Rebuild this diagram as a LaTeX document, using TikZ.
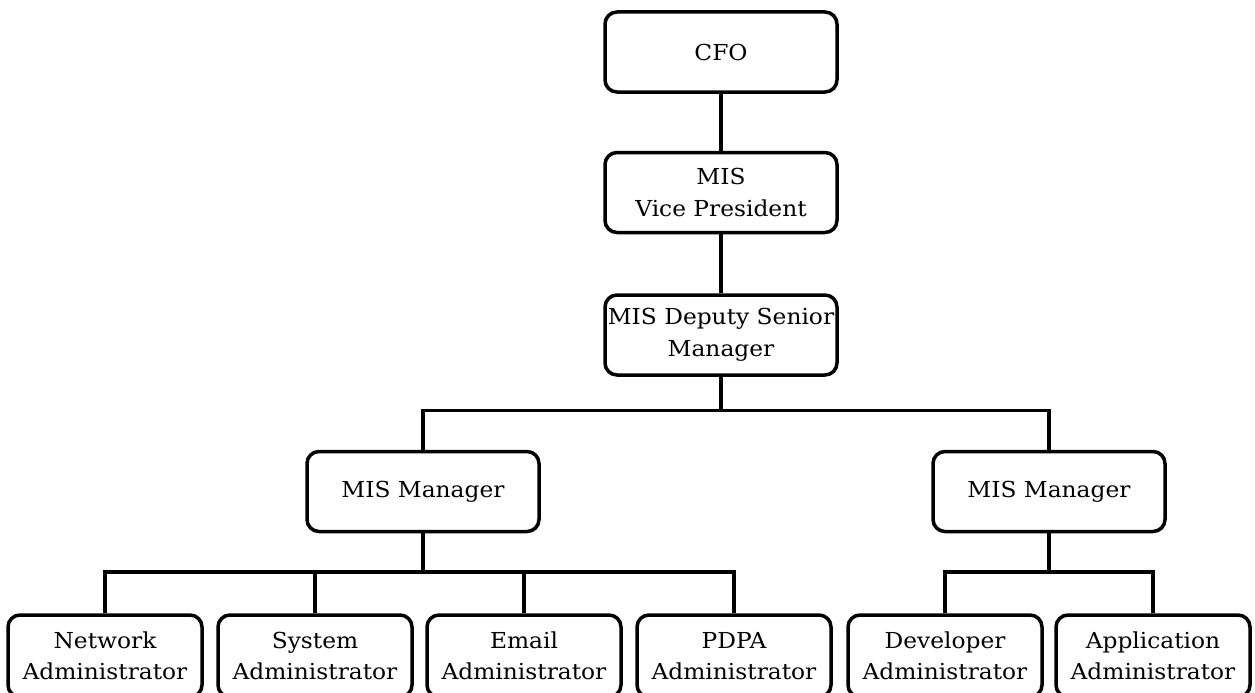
\documentclass[tikz,border=0pt]{standalone}
\usepackage{fontspec}
\setmainfont{DejaVu Serif}[FakeStretch=1.06]
\begin{document}
\begin{tikzpicture}[x=1pt,y=-1pt,
  box/.style={draw=black, line width=3.5pt, rounded corners=12pt, align=center,
    inner sep=0pt, font=\fontsize{22}{31.5}\selectfont, text=black},
  big/.style={box, minimum width=232pt, minimum height=80pt},
  small/.style={box, minimum width=194pt, minimum height=82pt},
  conn/.style={draw=black, line width=3.5pt}]
\useasboundingbox (0,0) rectangle (1255,693);
\clip (0,0) rectangle (1255,693);
\node[big] (cfo) at (721,52) {CFO};
\node[big] (vp) at (721,192.5) {MIS\\Vice President};
\node[big] (dep) at (721,335) {MIS Deputy Senior\\Manager};
\node[big] (ml) at (423,491.5) {MIS Manager};
\node[big] (mr) at (1049,491.5) {MIS Manager};
\node[small] (n1) at (105,656) {Network\\Administrator};
\node[small] (n2) at (315,656) {System\\Administrator};
\node[small] (n3) at (524,656) {Email\\Administrator};
\node[small] (n4) at (734,656) {PDPA\\Administrator};
\node[small] (n5) at (945,656) {Developer\\Administrator};
\node[small] (n6) at (1153,656) {Application\\Administrator};
\coordinate (b1) at (721,410.5);
\coordinate (b2) at (423,572);
\coordinate (b3) at (1049,572);
\draw[conn] (cfo.south) -- (vp.north);
\draw[conn] (vp.south) -- (dep.north);
\draw[conn] (dep.south) -- (b1);
\draw[conn] (ml.north) |- (b1) -| (mr.north);
\draw[conn] (ml.south) -- (b2);
\draw[conn] (n1.north) |- (b2) -| (n4.north);
\draw[conn] (n2.north) -- (n2.north |- b2);
\draw[conn] (n3.north) -- (n3.north |- b2);
\draw[conn] (mr.south) -- (b3);
\draw[conn] (n5.north) |- (b3) -| (n6.north);
\end{tikzpicture}
\end{document}
